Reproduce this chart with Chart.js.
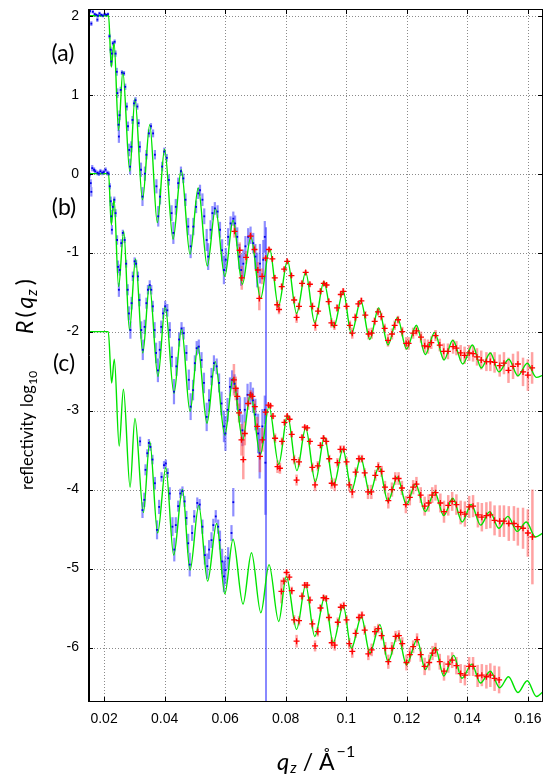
<!DOCTYPE html>
<html>
<head>
<meta charset="utf-8">
<script src="https://cdn.jsdelivr.net/npm/chart.js@4.4.1/dist/chart.umd.min.js"></script>
<style>
  html, body { margin: 0; padding: 0; background: #fff; }
  canvas { display: block; }
</style>
</head>
<body>
<canvas id="refl" width="544" height="776"></canvas>
<script>
// axes
var xMin = 0.0147, xMax = 0.165;
var yMin = -6.69, yMax = 2.085;
var xTicks = [0.02, 0.04, 0.06, 0.08, 0.1, 0.12, 0.14, 0.16];
var yTicks = [-6, -5, -4, -3, -2, -1, 0, 1, 2];
var curveLabels = ['(a)', '(b)', '(c)'];

// fitted curves (green), read at the extrema
var aFitQ = [0.0147,0.0215,0.0224,0.0233,0.0248,0.0262,0.0285,0.0302,0.0327,0.0351,0.0376,0.0400,0.0428,0.0455,0.0484,0.0511,0.0541,0.0568,0.0599,0.0626,0.0657,0.0685,0.0717,0.0747,0.0776,0.0806,0.0836,0.0866,0.0896,0.0926,0.0959,0.0990,0.1017,0.1048,0.1078,0.1107,0.1138,0.1169,0.1199,0.1232,0.1261,0.1292,0.1323,0.1352,0.1385,0.1417,0.1446,0.1476,0.1504,0.1537,0.1567,0.1598,0.1628,0.1650];
var aFitR = [2.00,2.00,1.35,1.66,0.55,1.29,0.03,0.95,-0.33,0.62,-0.62,0.31,-0.83,0.05,-1.02,-0.18,-1.17,-0.44,-1.30,-0.59,-1.40,-0.80,-1.58,-0.95,-1.68,-1.10,-1.77,-1.25,-1.89,-1.37,-1.94,-1.49,-2.03,-1.61,-2.10,-1.70,-2.17,-1.82,-2.22,-1.92,-2.29,-2.01,-2.36,-2.11,-2.41,-2.17,-2.46,-2.27,-2.51,-2.35,-2.56,-2.40,-2.58,-2.55];
var bFitQ = [0.0147,0.0215,0.0224,0.0233,0.0248,0.0265,0.0284,0.0304,0.0328,0.0350,0.0378,0.0402,0.0431,0.0456,0.0484,0.0510,0.0540,0.0567,0.0599,0.0626,0.0658,0.0684,0.0716,0.0745,0.0777,0.0806,0.0837,0.0866,0.0898,0.0928,0.0959,0.0989,0.1018,0.1048,0.1078,0.1108,0.1138,0.1169,0.1199,0.1229,0.1261,0.1292,0.1322,0.1352,0.1383,0.1413,0.1444,0.1474,0.1504,0.1534,0.1565,0.1595,0.1625,0.1650];
var bFitR = [0,0,-0.65,-0.32,-1.43,-0.73,-1.98,-1.08,-2.27,-1.41,-2.57,-1.68,-2.78,-1.96,-3.01,-2.19,-3.16,-2.38,-3.31,-2.59,-3.37,-2.78,-3.56,-2.95,-3.68,-3.06,-3.76,-3.22,-3.90,-3.34,-3.94,-3.49,-4.01,-3.60,-4.05,-3.71,-4.15,-3.84,-4.19,-3.93,-4.28,-4.03,-4.33,-4.11,-4.41,-4.19,-4.45,-4.28,-4.49,-4.34,-4.53,-4.41,-4.60,-4.55];
var cFitQ = [0.0147,0.0214,0.0225,0.0234,0.0250,0.0264,0.0286,0.0302,0.0330,0.0351,0.0377,0.0404,0.0430,0.0459,0.0484,0.0513,0.0542,0.0572,0.0599,0.0626,0.0659,0.0687,0.0718,0.0745,0.0777,0.0802,0.0836,0.0866,0.0896,0.0929,0.0957,0.0990,0.1017,0.1050,0.1078,0.1111,0.1138,0.1171,0.1199,0.1234,0.1261,0.1294,0.1322,0.1355,0.1382,0.1415,0.1443,0.1476,0.1507,0.1536,0.1567,0.1598,0.1628,0.1650];
var cFitR = [-2,-2,-2.65,-2.35,-3.45,-2.73,-3.97,-3.10,-4.29,-3.39,-4.55,-3.72,-4.83,-4.00,-5.02,-4.20,-5.16,-4.43,-5.32,-4.63,-5.45,-4.80,-5.56,-4.95,-5.67,-5.10,-5.77,-5.21,-5.86,-5.36,-5.94,-5.47,-6.01,-5.61,-6.07,-5.71,-6.18,-5.84,-6.22,-5.90,-6.28,-6.00,-6.36,-6.10,-6.39,-6.21,-6.45,-6.30,-6.51,-6.37,-6.57,-6.42,-6.62,-6.56];

// blue data (low q)
var aBlueQ = [0.0150,0.0154,0.0158,0.0163,0.0169,0.0174,0.0178,0.0180,0.0185,0.0191,0.0196,0.0202,0.0207,0.0213,
  0.0218,0.0222,0.0224,0.0226,0.0229,0.0235,0.0238,0.0242,0.0244,0.0248,0.0249,0.0251,0.0255,0.0259,
  0.0266,0.0270,0.0275,0.0279,0.0283,0.0286,0.0290,0.0294,0.0299,0.0304,0.0310,0.0314,0.0318,0.0322,
  0.0327,0.0335,0.0340,0.0348,0.0355,0.0362,0.0368,0.0373,0.0379,0.0385,0.0392,0.0399,0.0407,0.0414,
  0.0423,0.0429,0.0437,0.0445,0.0454,0.0462,0.0469,0.0478,0.0486,0.0495,0.0504,0.0511,0.0517,0.0525,
  0.0531,0.0539,0.0544,0.0552,0.0558,0.0566,0.0575,0.0583,0.0590,0.0596,0.0602,0.0610,0.0618,0.0627,
  0.0633,0.0640,0.0647,0.0653,0.0660,0.0667,0.0676,0.0684,0.0693,0.0700,0.0706,0.0715,0.0726,0.0731];
var aBlueR = [2.03,2.06,1.90,2.05,2.02,2.01,1.95,2.00,2.03,2.01,2.00,2.02,2.01,2.02,
  1.74,1.57,1.42,1.52,1.65,1.67,1.52,1.29,1.02,0.62,0.47,0.74,1.06,1.28,
  1.27,1.10,0.85,0.60,0.30,0.09,0.34,0.68,0.89,0.93,0.85,0.64,0.34,0.05,
  -0.29,0.00,0.24,0.51,0.60,0.51,0.24,-0.16,-0.54,-0.29,0.09,0.28,0.20,-0.08,
  -0.50,-0.75,-0.42,-0.12,0.03,-0.06,-0.33,-0.67,-0.92,-0.67,-0.42,-0.25,-0.21,-0.33,
  -0.54,-0.84,-1.05,-0.71,-0.50,-0.44,-0.48,-0.71,-0.97,-1.22,-1.09,-0.80,-0.63,-0.57,
  -0.63,-0.80,-1.05,-1.22,-1.14,-0.92,-0.80,-0.78,-0.88,-1.05,-1.22,-1.14,-1.09,-0.80];
var aBlueE = [0.02,0.03,0.03,0.02,0.02,0.02,0.03,0.02,0.02,0.02,0.02,0.02,0.02,0.02,
  0.03,0.04,0.06,0.05,0.03,0.03,0.04,0.05,0.06,0.08,0.08,0.06,0.04,0.03,
  0.03,0.04,0.05,0.06,0.08,0.10,0.07,0.05,0.04,0.04,0.04,0.05,0.07,0.09,
  0.12,0.09,0.06,0.05,0.04,0.05,0.06,0.09,0.13,0.10,0.06,0.05,0.05,0.07,
  0.10,0.14,0.10,0.07,0.06,0.06,0.08,0.11,0.15,0.11,0.08,0.07,0.07,0.08,
  0.10,0.14,0.17,0.12,0.09,0.08,0.08,0.10,0.14,0.18,0.15,0.11,0.09,0.09,
  0.10,0.12,0.16,0.20,0.18,0.13,0.11,0.11,0.13,0.16,0.22,0.25,0.25,0.20];

var bBlueQ = [0.0152,0.0156,0.0158,0.0161,0.0167,0.0171,0.0178,0.0183,0.0188,0.0194,0.0199,0.0205,0.0211,0.0215,
  0.0219,0.0222,0.0224,0.0226,0.0229,0.0234,0.0238,0.0243,0.0246,0.0249,0.0252,0.0257,0.0262,0.0268,
  0.0273,0.0278,0.0282,0.0287,0.0291,0.0295,0.0301,0.0306,0.0312,0.0317,0.0323,0.0328,0.0334,0.0340,
  0.0345,0.0351,0.0356,0.0361,0.0367,0.0372,0.0378,0.0384,0.0389,0.0395,0.0402,0.0409,0.0417,0.0424,
  0.0431,0.0439,0.0448,0.0456,0.0463,0.0472,0.0480,0.0486,0.0494,0.0500,0.0506,0.0513,0.0522,0.0530,
  0.0539,0.0547,0.0555,0.0563,0.0572,0.0580,0.0588,0.0596,0.0601,0.0608,0.0616,0.0623,0.0631,0.0640,
  0.0649,0.0657,0.0665,0.0674,0.0684,0.0692,0.0700,0.0709,0.0714,0.0723,0.0731,0.0733];
var bBlueR = [-0.02,-0.12,-0.23,0.07,0.05,0.03,0.01,0.00,0.03,0.01,0.02,0.05,0.01,0.00,
  -0.16,-0.35,-0.54,-0.71,-0.42,-0.33,-0.50,-0.84,-1.18,-1.47,-1.22,-0.88,-0.75,-0.84,
  -1.14,-1.47,-1.77,-1.98,-1.64,-1.30,-1.11,-1.14,-1.30,-1.60,-1.98,-2.23,-1.94,-1.64,
  -1.47,-1.41,-1.47,-1.68,-1.98,-2.27,-2.49,-2.23,-1.94,-1.77,-1.68,-1.73,-1.98,-2.32,
  -2.76,-2.44,-2.10,-1.96,-2.02,-2.27,-2.61,-2.95,-2.74,-2.40,-2.21,-2.19,-2.36,-2.65,
  -3.08,-2.87,-2.57,-2.40,-2.44,-2.65,-2.91,-3.20,-3.29,-2.99,-2.70,-2.61,-2.66,-2.85,
  -2.99,-3.25,-2.99,-2.80,-2.78,-2.87,-3.05,-3.29,-3.54,-3.20,-2.99,-3.66];
var bBlueE = [0.04,0.05,0.06,0.04,0.03,0.03,0.03,0.03,0.03,0.03,0.03,0.03,0.03,0.03,
  0.04,0.06,0.08,0.06,0.05,0.04,0.05,0.06,0.08,0.09,0.07,0.05,0.04,0.04,
  0.05,0.07,0.09,0.11,0.08,0.06,0.05,0.05,0.06,0.08,0.11,0.13,0.09,0.07,
  0.06,0.06,0.06,0.07,0.10,0.13,0.15,0.11,0.08,0.07,0.07,0.08,0.10,0.13,
  0.16,0.12,0.09,0.08,0.08,0.10,0.13,0.17,0.13,0.10,0.09,0.09,0.10,0.13,
  0.18,0.14,0.11,0.10,0.10,0.12,0.15,0.20,0.22,0.15,0.12,0.12,0.12,0.14,
  0.16,0.20,0.16,0.14,0.14,0.16,0.20,0.25,0.32,0.22,0.18,0.66];

// one blue point with a very large error bar
var wideBlueQ = [0.0735];
var wideBlueR = [-3.69];
var wideBlueE = [3.01];

var cBlueQ = [0.0319,0.0327,0.0333,0.0337,0.0343,0.0348,0.0353,0.0360,0.0368,0.0375,
  0.0382,0.0390,0.0398,0.0404,0.0410,0.0417,0.0426,0.0432,0.0437,0.0445,
  0.0452,0.0459,0.0466,0.0472,0.0478,0.0483,0.0491,0.0498,0.0508,0.0516,
  0.0525,0.0533,0.0541,0.0547,0.0555,0.0561,0.0569,0.0577,0.0583,0.0590,
  0.0596,0.0601,0.0610,0.0621,0.0627];
var cBlueR = [-3.39,-4.26,-4.13,-3.75,-3.54,-3.41,-3.46,-3.62,-3.92,-4.51,
  -4.22,-3.84,-3.69,-3.67,-3.79,-4.05,-4.47,-4.76,-4.45,-4.21,
  -4.05,-4.02,-4.15,-4.36,-4.68,-4.95,-4.55,-4.34,-4.17,-4.19,
  -4.47,-4.83,-4.97,-4.76,-4.64,-4.45,-4.34,-4.47,-4.64,-4.91,
  -5.10,-5.02,-4.87,-4.55,-4.16];
var cBlueE = [0.06,0.10,0.09,0.07,0.05,0.05,0.05,0.06,0.08,0.12,
  0.09,0.06,0.05,0.05,0.06,0.08,0.12,0.15,0.10,0.07,
  0.06,0.06,0.07,0.09,0.12,0.15,0.10,0.08,0.07,0.07,
  0.09,0.12,0.16,0.12,0.10,0.08,0.08,0.09,0.12,0.16,
  0.20,0.18,0.14,0.10,0.18];

// red data (high q)
var aRedQ = [0.0631,0.0648,0.0655,0.0669,0.0684,0.0697,0.0708,0.0713,0.0722,
  0.0734,0.0745,0.0756,0.0764,0.0772,0.0778,0.0787,0.0795,0.0805,0.0819,
  0.0828,0.0836,0.0844,0.0854,0.0866,0.0880,0.0888,0.0898,0.0907,0.0915,
  0.0926,0.0935,0.0942,0.0951,0.0961,0.0970,0.0982,0.0990,0.1001,0.1012,
  0.1020,0.1030,0.1040,0.1050,0.1063,0.1074,0.1084,0.1094,0.1105,0.1116,
  0.1127,0.1138,0.1151,0.1160,0.1171,0.1185,0.1198,0.1206,0.1221,0.1232,
  0.1247,0.1259,0.1270,0.1281,0.1295,0.1309,0.1322,0.1336,0.1353,0.1364,
  0.1378,0.1391,0.1406,0.1419,0.1432,0.1446,0.1463,0.1476,0.1490,0.1507,
  0.1521,0.1536,0.1551,0.1567,0.1584,0.1600,0.1614];
var aRedR = [-0.73,-0.97,-1.32,-1.06,-0.79,-0.96,-1.22,-1.58,-1.30,
  -1.07,-0.96,-1.08,-1.32,-1.66,-1.72,-1.43,-1.21,-1.11,-1.29,
  -1.60,-1.82,-1.68,-1.39,-1.25,-1.40,-1.68,-1.92,-1.74,-1.49,
  -1.39,-1.41,-1.62,-1.89,-1.92,-1.70,-1.53,-1.49,-1.68,-1.92,
  -2.02,-1.82,-1.65,-1.61,-1.79,-2.03,-2.02,-1.87,-1.75,-1.81,
  -1.96,-2.11,-2.03,-1.92,-1.85,-2.00,-2.15,-2.15,-2.02,-1.99,
  -2.07,-2.18,-2.19,-2.14,-2.05,-2.17,-2.25,-2.25,-2.19,-2.21,
  -2.27,-2.30,-2.27,-2.28,-2.32,-2.36,-2.38,-2.38,-2.39,-2.43,
  -2.40,-2.49,-2.44,-2.41,-2.51,-2.55,-2.46];
var aRedE = [0.08,0.10,0.15,0.08,0.05,0.06,0.10,0.15,0.10,
  0.03,0.03,0.03,0.04,0.06,0.06,0.04,0.03,0.03,0.03,
  0.05,0.07,0.05,0.04,0.03,0.03,0.05,0.07,0.05,0.04,
  0.03,0.03,0.04,0.06,0.06,0.05,0.04,0.04,0.04,0.06,
  0.07,0.05,0.04,0.04,0.05,0.07,0.07,0.05,0.05,0.05,
  0.06,0.08,0.07,0.06,0.05,0.06,0.08,0.08,0.07,0.06,
  0.07,0.09,0.09,0.08,0.07,0.08,0.10,0.10,0.09,0.09,
  0.10,0.11,0.10,0.10,0.11,0.12,0.12,0.12,0.13,0.14,
  0.14,0.16,0.16,0.16,0.18,0.20,0.20];

var bRedQ = [0.0629,0.0635,0.0640,0.0646,0.0654,0.0660,0.0665,0.0676,0.0684,0.0690,0.0698,0.0706,0.0715,0.0723,
  0.0734,0.0743,0.0750,0.0758,0.0765,0.0773,0.0781,0.0788,0.0796,0.0805,
  0.0813,0.0820,0.0828,0.0836,0.0844,0.0854,0.0863,0.0871,0.0880,0.0888,
  0.0897,0.0906,0.0915,0.0925,0.0934,0.0944,0.0952,0.0962,0.0971,0.0981,
  0.0992,0.1001,0.1010,0.1020,0.1031,0.1042,0.1052,0.1061,0.1072,0.1083,
  0.1096,0.1106,0.1117,0.1128,0.1139,0.1151,0.1162,0.1173,0.1184,0.1197,
  0.1210,0.1221,0.1232,0.1246,0.1259,0.1272,0.1284,0.1295,0.1311,0.1323,
  0.1337,0.1350,0.1364,0.1378,0.1392,0.1406,0.1419,0.1435,0.1448,0.1463,
  0.1476,0.1490,0.1507,0.1521,0.1537,0.1554,0.1567,0.1584,0.1600,0.1615];
var bRedR = [-2.61,-2.72,-2.82,-3.03,-3.37,-3.62,-3.29,-2.91,-2.80,-2.82,-2.95,-3.20,-3.58,-3.37,
  -3.02,-2.93,-2.94,-3.07,-3.35,-3.71,-3.73,-3.39,-3.15,-3.07,
  -3.11,-3.30,-3.62,-3.88,-3.65,-3.34,-3.21,-3.22,-3.39,-3.72,
  -3.94,-3.70,-3.44,-3.35,-3.39,-3.61,-3.92,-3.94,-3.66,-3.49,
  -3.49,-3.65,-3.94,-4.03,-3.78,-3.61,-3.61,-3.79,-4.03,-4.03,
  -3.82,-3.71,-3.77,-3.97,-4.14,-4.00,-3.86,-3.86,-3.98,-4.19,
  -4.10,-3.97,-3.93,-4.07,-4.21,-4.17,-4.07,-4.04,-4.17,-4.28,
  -4.20,-4.15,-4.19,-4.29,-4.31,-4.22,-4.21,-4.32,-4.35,-4.33,
  -4.32,-4.39,-4.40,-4.40,-4.43,-4.43,-4.47,-4.49,-4.55,-4.60];
var bRedE = [0.20,0.15,0.12,0.12,0.20,0.25,0.15,0.08,0.06,0.06,0.08,0.12,0.20,0.15,
  0.04,0.03,0.03,0.04,0.06,0.08,0.07,0.05,0.04,0.03,
  0.03,0.04,0.06,0.07,0.06,0.04,0.03,0.03,0.04,0.06,
  0.08,0.06,0.04,0.04,0.04,0.05,0.07,0.08,0.06,0.05,
  0.05,0.06,0.08,0.08,0.06,0.05,0.05,0.06,0.09,0.09,
  0.07,0.06,0.07,0.08,0.10,0.09,0.08,0.08,0.09,0.11,
  0.10,0.09,0.09,0.10,0.12,0.11,0.10,0.10,0.12,0.14,
  0.13,0.12,0.13,0.15,0.16,0.14,0.14,0.16,0.18,0.17,
  0.17,0.19,0.20,0.20,0.22,0.22,0.24,0.26,0.30,0.60];

var cRedQ = [0.0786,0.0794,0.0803,0.0812,0.0820,0.0828,0.0836,0.0844,0.0854,0.0863,
  0.0871,0.0880,0.0888,0.0897,0.0906,0.0915,0.0925,0.0934,0.0943,0.0952,
  0.0962,0.0972,0.0982,0.0992,0.1001,0.1010,0.1020,0.1031,0.1042,0.1052,
  0.1061,0.1073,0.1084,0.1095,0.1106,0.1117,0.1129,0.1139,0.1151,0.1163,
  0.1174,0.1185,0.1199,0.1210,0.1221,0.1234,0.1246,0.1259,0.1274,0.1285,
  0.1295,0.1309,0.1323,0.1337,0.1350,0.1364,0.1378,0.1392,0.1406,0.1419,
  0.1434,0.1448,0.1463,0.1476,0.1490,0.1505];
var cRedR = [-5.29,-5.16,-5.05,-5.11,-5.28,-5.65,-5.92,-5.66,-5.35,-5.21,
  -5.21,-5.40,-5.70,-5.98,-5.80,-5.50,-5.37,-5.38,-5.62,-5.94,
  -5.97,-5.68,-5.49,-5.47,-5.65,-5.95,-6.05,-5.82,-5.62,-5.59,
  -5.78,-6.08,-6.03,-5.80,-5.76,-5.85,-6.01,-6.18,-6.01,-5.86,
  -5.85,-5.95,-6.19,-6.09,-5.99,-5.90,-6.09,-6.24,-6.19,-6.07,
  -6.03,-6.18,-6.30,-6.21,-6.16,-6.23,-6.33,-6.35,-6.24,-6.24,
  -6.36,-6.35,-6.37,-6.35,-6.39,-6.41];
var cRedE = [0.15,0.05,0.04,0.04,0.05,0.06,0.08,0.06,0.05,0.04,
  0.04,0.05,0.06,0.07,0.06,0.05,0.04,0.04,0.05,0.07,
  0.07,0.06,0.05,0.05,0.06,0.07,0.08,0.06,0.05,0.05,
  0.06,0.08,0.08,0.07,0.06,0.06,0.08,0.09,0.08,0.07,
  0.07,0.08,0.10,0.09,0.08,0.08,0.09,0.11,0.10,0.09,
  0.09,0.10,0.12,0.11,0.10,0.11,0.12,0.13,0.12,0.12,
  0.14,0.14,0.15,0.15,0.16,0.17];

function pts(qs, rs) {
  return qs.map(function(q, i) { return {x: q, y: rs[i]}; });
}

var green = '#00e400';
var blue = '#0000e8';
var blueBar = 'rgba(50,50,255,0.55)';
var red = '#ff0000';
var redBar = 'rgba(255,70,70,0.5)';

function fitSet(qs, rs) {
  return { data: pts(qs, rs), showLine: true, borderColor: green, borderWidth: 1.4,
    pointRadius: 0, cubicInterpolationMode: 'monotone', fill: false, order: 3 };
}
function blueSet(qs, rs, es) {
  return { data: pts(qs, rs), err: es, barColor: blueBar, barWidth: 2.2, showLine: false, pointStyle: 'rect',
    pointRadius: 1.3, backgroundColor: blue, borderColor: blue, borderWidth: 0, order: 2 };
}
function redSet(qs, rs, es) {
  return { data: pts(qs, rs), err: es, barColor: redBar, barWidth: 2.5, showLine: false, pointStyle: 'cross',
    pointRadius: 3, borderColor: red, borderWidth: 1.3, order: 1 };
}

// pieces of text laid out along one baseline, each {t, font, dv, gap}
function drawSeq(ctx, parts, u0, v0) {
  var u = u0;
  parts.forEach(function(p) {
    ctx.font = p.font;
    ctx.fillText(p.t, u, (v0 || 0) + (p.dv || 0));
    u += ctx.measureText(p.t).width + (p.gap || 0);
  });
}

// grid, error bars, frame, tick labels and texts
var extras = {
  id: 'extras',
  beforeDatasetsDraw: function(chart) {
    var ctx = chart.ctx, a = chart.chartArea;
    var xs = chart.scales.x, ys = chart.scales.y;
    ctx.save();
    ctx.strokeStyle = '#8a8a8a';
    ctx.lineWidth = 1;
    ctx.setLineDash([1, 2]);
    xTicks.forEach(function(v) {
      var px = Math.round(xs.getPixelForValue(v)) + 0.5;
      ctx.beginPath(); ctx.moveTo(px, a.top); ctx.lineTo(px, a.bottom); ctx.stroke();
    });
    yTicks.forEach(function(v) {
      var py = Math.round(ys.getPixelForValue(v)) + 0.5;
      ctx.beginPath(); ctx.moveTo(a.left, py); ctx.lineTo(a.right, py); ctx.stroke();
    });
    ctx.setLineDash([]);
    ctx.beginPath();
    ctx.rect(a.left, a.top, a.right - a.left, a.bottom - a.top);
    ctx.clip();
    chart.data.datasets.forEach(function(ds) {
      if (!ds.err) return;
      ctx.strokeStyle = ds.barColor;
      ctx.lineWidth = ds.barWidth;
      ds.data.forEach(function(p, i) {
        var e = ds.err[i] || 0;
        var px = xs.getPixelForValue(p.x);
        ctx.beginPath();
        ctx.moveTo(px, ys.getPixelForValue(p.y + e));
        ctx.lineTo(px, ys.getPixelForValue(p.y - e));
        ctx.stroke();
      });
    });
    ctx.restore();
  },
  afterDraw: function(chart) {
    var ctx = chart.ctx, a = chart.chartArea;
    var xs = chart.scales.x, ys = chart.scales.y;
    ctx.save();
    ctx.strokeStyle = '#000';
    ctx.lineWidth = 1;
    ctx.strokeRect(a.left + 0.5, a.top + 0.5, a.right - a.left - 1, a.bottom - a.top - 1);
    ctx.beginPath();
    ctx.moveTo(a.left + 1.5, a.top); ctx.lineTo(a.left + 1.5, a.bottom);
    xTicks.forEach(function(v) {
      var px = Math.round(xs.getPixelForValue(v)) + 0.5;
      ctx.moveTo(px, a.bottom); ctx.lineTo(px, a.bottom - 5);
      ctx.moveTo(px, a.top); ctx.lineTo(px, a.top + 5);
    });
    yTicks.forEach(function(v) {
      var py = Math.round(ys.getPixelForValue(v)) + 0.5;
      ctx.moveTo(a.left, py); ctx.lineTo(a.left + 5, py);
      ctx.moveTo(a.right, py); ctx.lineTo(a.right - 5, py);
    });
    ctx.stroke();

    // tick labels
    ctx.fillStyle = '#000';
    ctx.font = '14px "Liberation Sans", Arial, sans-serif';
    ctx.textBaseline = 'middle';
    ctx.textAlign = 'right';
    yTicks.forEach(function(v) { ctx.fillText(String(v), a.left - 9, ys.getPixelForValue(v)); });
    ctx.textAlign = 'center';
    xTicks.forEach(function(v) { ctx.fillText(String(v), xs.getPixelForValue(v), 719); });

    ctx.font = '23px Lato';
    ctx.fillText(curveLabels[0], 63, 54);
    ctx.fillText(curveLabels[1], 64, 208);
    ctx.fillText(curveLabels[2], 64, 364);

    // y axis title, rotated
    ctx.textAlign = 'left';
    ctx.textBaseline = 'alphabetic';
    ctx.translate(33, 0);
    ctx.rotate(-Math.PI / 2);
    drawSeq(ctx, [{t: 'reflectivity', font: '16.5px Lato'}], -490);
    drawSeq(ctx, [{t: 'log', font: '16.5px Lato', gap: 0.5}, {t: '10', font: '12px Lato', dv: 4}], -407);
    drawSeq(ctx, [
      {t: 'R', font: 'italic 23px Lato', gap: 3},
      {t: '(', font: '23px Lato', gap: 3},
      {t: 'q', font: 'italic 23px Lato', gap: 1},
      {t: 'z', font: 'italic 15px Lato', dv: 4, gap: 4},
      {t: ')', font: '23px Lato'}
    ], -334);
    ctx.setTransform(1, 0, 0, 1, 0, 0);

    // x axis title
    drawSeq(ctx, [
      {t: 'q', font: 'italic 24px Lato', gap: 1},
      {t: 'z', font: 'italic 15px Lato', dv: 3, gap: 6},
      {t: '/', font: '23px Lato', gap: 6},
      {t: '\u00C5', font: '23px Lato', gap: 2},
      {t: '\u22121', font: '16px Lato', dv: -13}
    ], 277, 770);
    ctx.restore();
  }
};

var chart = new Chart(document.getElementById('refl'), {
  type: 'scatter',
  data: {
    datasets: [
      fitSet(aFitQ, aFitR), fitSet(bFitQ, bFitR), fitSet(cFitQ, cFitR),
      blueSet(aBlueQ, aBlueR, aBlueE), blueSet(bBlueQ, bBlueR, bBlueE), blueSet(cBlueQ, cBlueR, cBlueE),
      { data: pts(wideBlueQ, wideBlueR), err: wideBlueE, barColor: '#3a3aff', barWidth: 1.2,
        showLine: false, pointRadius: 0, order: 2 },
      redSet(aRedQ, aRedR, aRedE), redSet(bRedQ, bRedR, bRedE), redSet(cRedQ, cRedR, cRedE)
    ]
  },
  options: {
    responsive: false,
    animation: false,
    layout: { autoPadding: false, padding: { top: 9, right: 1, left: 0, bottom: 0 } },
    plugins: { legend: { display: false }, tooltip: { enabled: false } },
    scales: {
      x: {
        type: 'linear', min: xMin, max: xMax,
        afterBuildTicks: function(s) { s.ticks = xTicks.map(function(v) { return {value: v}; }); },
        afterFit: function(s) { s.height = 74; },
        grid: { display: false, drawTicks: false },
        border: { display: false },
        ticks: { display: false }
      },
      y: {
        type: 'linear', min: yMin, max: yMax,
        afterBuildTicks: function(s) { s.ticks = yTicks.map(function(v) { return {value: v}; }); },
        afterFit: function(s) { s.width = 88; },
        grid: { display: false, drawTicks: false },
        border: { display: false },
        ticks: { display: false }
      }
    }
  },
  plugins: [extras]
});
</script>
</body>
</html>
